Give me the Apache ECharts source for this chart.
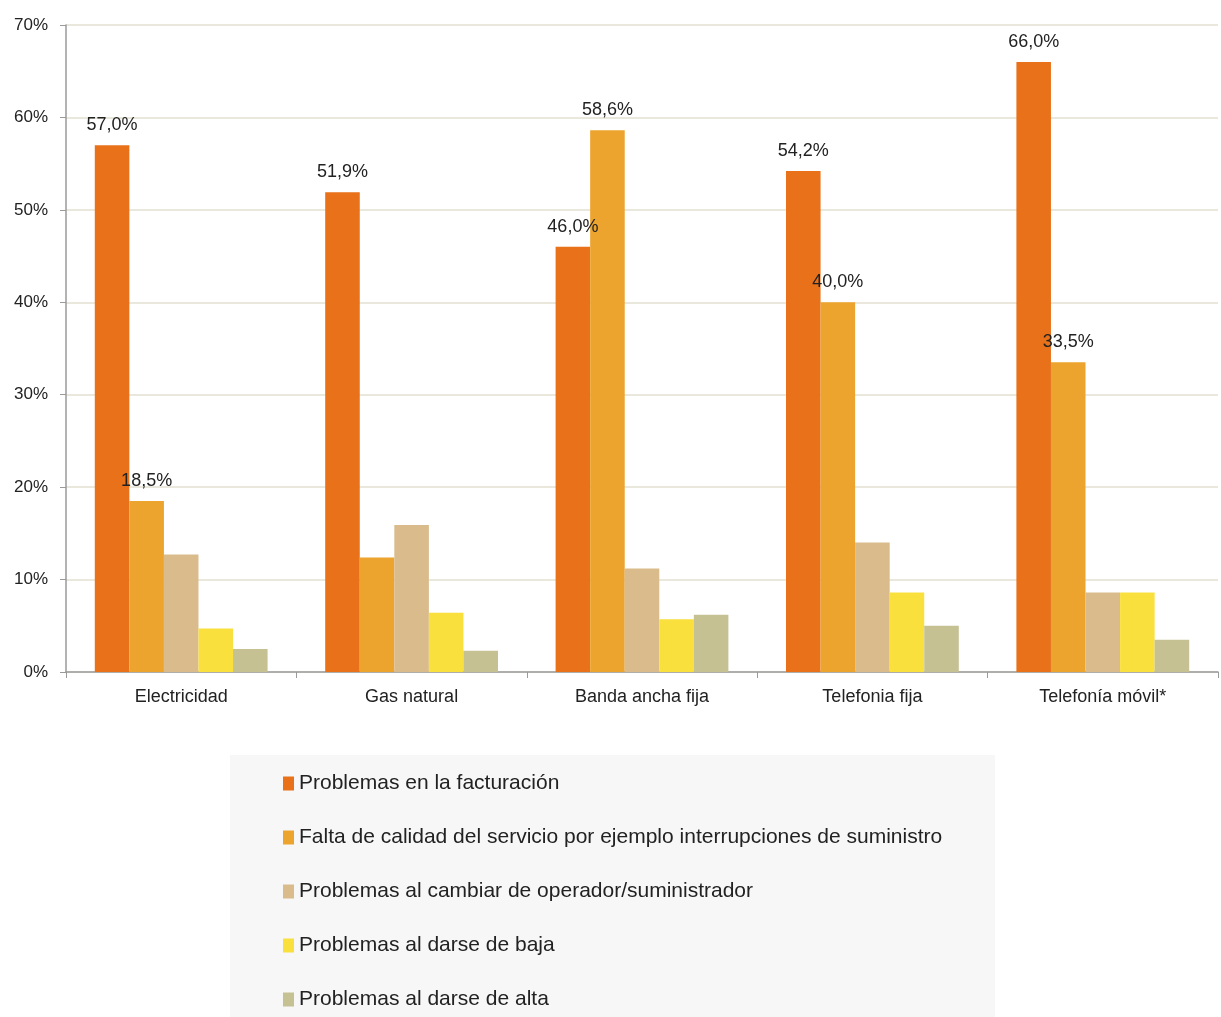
<!DOCTYPE html>
<html>
<head>
<meta charset="utf-8">
<script src="https://cdn.jsdelivr.net/npm/echarts@6/dist/echarts.min.js"></script>
<style>
  html, body { margin: 0; padding: 0; background: #ffffff; }
  #chart { width: 1221px; height: 1017px; }
</style>
</head>
<body>
<div id="chart"></div>
<script>
// Services compared
const categories = ['Electricidad', 'Gas natural', 'Banda ancha fija', 'Telefonia fija', 'Telefonía móvil*'];

// Share of complaints by problem type (%)
const facturacion = [57.0, 51.9, 46.0, 54.2, 66.0];
const calidad     = [18.5, 12.4, 58.6, 40.0, 33.5];
const cambiar     = [12.7, 15.9, 11.2, 14.0, 8.6];
const baja        = [4.7, 6.4, 5.7, 8.6, 8.6];
const alta        = [2.5, 2.3, 6.2, 5.0, 3.5];

// Which values carry a printed percentage
const labelFacturacion = [true, true, true, true, true];
const labelCalidad     = [true, false, true, true, true];

const seriesNames = [
  'Problemas en la facturación',
  'Falta de calidad del servicio por ejemplo interrupciones de suministro',
  'Problemas al cambiar de operador/suministrador',
  'Problemas al darse de baja',
  'Problemas al darse de alta'
];

// Y axis ticks
const yTicks = [0, 10, 20, 30, 40, 50, 60, 70];

const colors = ['#E8711A', '#ECA42E', '#D9BB8C', '#F9E03D', '#C6C193'];
const fontMain = 'Liberation Sans, Arial, sans-serif';

const fmtPct = v => v.toFixed(1).replace('.', ',') + '%';

function bar(name, values, color, labelFlags) {
  const data = values.map((v, i) => {
    const show = labelFlags ? labelFlags[i] : false;
    return { value: v, label: { show: show } };
  });
  return {
    name: name,
    type: 'bar',
    data: data,
    barGap: '0%',
    barCategoryGap: '25%',
    itemStyle: { color: color },
    label: {
      show: false,
      position: 'top',
      distance: 11,
      color: '#222222',
      fontFamily: fontMain,
      fontSize: 18,
      formatter: p => fmtPct(p.value)
    }
  };
}

const chart = echarts.init(document.getElementById('chart'), null, { renderer: 'canvas' });

chart.setOption({
  animation: false,
  backgroundColor: '#ffffff',
  color: colors,
  grid: { left: 66, right: 3, top: 25, bottom: 345, containLabel: false },
  graphic: [{
    type: 'rect',
    left: 230, top: 755,
    shape: { width: 765, height: 262 },
    style: { fill: '#F7F7F7' },
    z: -1
  }],
  legend: {
    orient: 'vertical',
    left: 283,
    top: 773,
    padding: 0,
    itemWidth: 11,
    itemHeight: 14,
    itemGap: 33,
    icon: 'rect',
    data: seriesNames,
    textStyle: {
      fontFamily: fontMain,
      fontSize: 21,
      color: '#222222',
      padding: [0, 0, 0, 0],
      lineHeight: 20
    }
  },
  xAxis: {
    type: 'category',
    data: categories,
    boundaryGap: true,
    axisLine: { show: true, lineStyle: { color: '#9A9A9A', width: 1.5 } },
    axisTick: { show: true, length: 6, alignWithLabel: false, lineStyle: { color: '#9A9A9A' } },
    axisLabel: {
      color: '#222222',
      fontFamily: fontMain,
      fontSize: 18,
      margin: 16
    }
  },
  yAxis: {
    type: 'value',
    min: yTicks[0],
    max: yTicks[yTicks.length - 1],
    interval: 10,
    axisLine: { show: true, lineStyle: { color: '#9A9A9A', width: 1.5 } },
    axisTick: { show: true, length: 6, lineStyle: { color: '#9A9A9A' } },
    axisLabel: {
      color: '#222222',
      fontFamily: fontMain,
      fontSize: 17,
      margin: 18,
      formatter: v => v + '%'
    },
    splitLine: { show: true, lineStyle: { color: '#E3E1D2', width: 1.5 } }
  },
  series: [
    bar(seriesNames[0], facturacion, colors[0], labelFacturacion),
    bar(seriesNames[1], calidad, colors[1], labelCalidad),
    bar(seriesNames[2], cambiar, colors[2], null),
    bar(seriesNames[3], baja, colors[3], null),
    bar(seriesNames[4], alta, colors[4], null)
  ]
});
</script>
</body>
</html>
